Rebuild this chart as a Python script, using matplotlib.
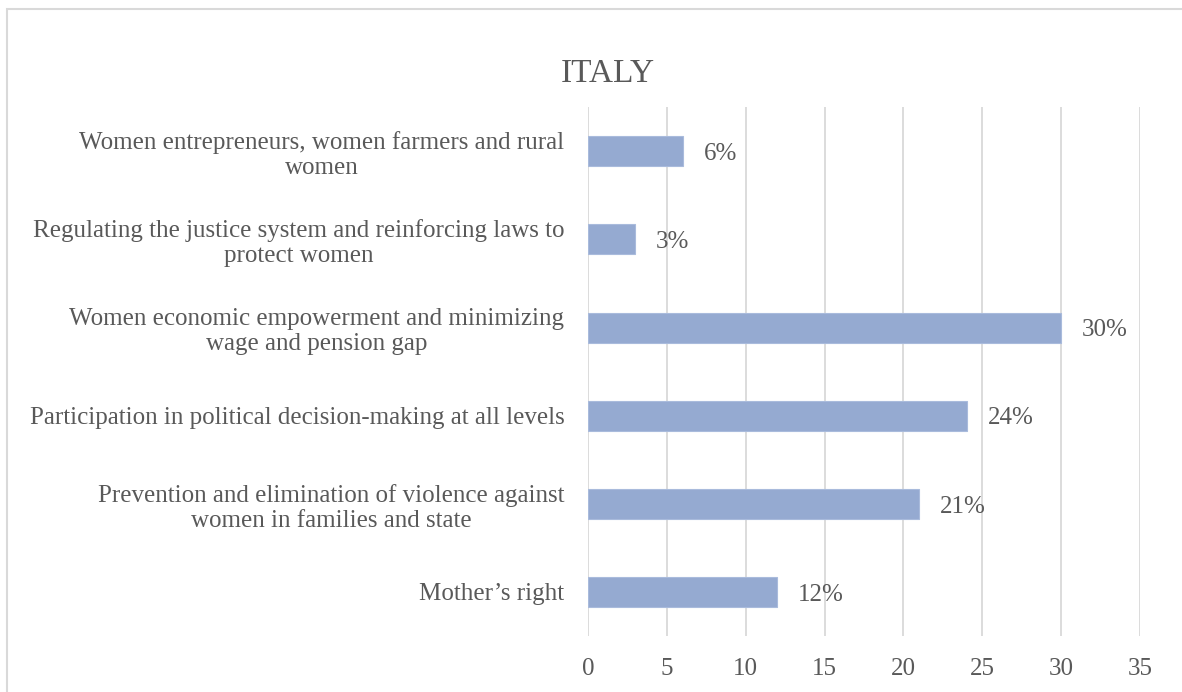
import matplotlib.pyplot as plt
from matplotlib.patches import Rectangle

# survey topics, bottom to top
topics = [
    "Mother\u2019s right",
    "Prevention and elimination of violence against\nwomen in families and state",
    "Participation in political decision-making at all levels",
    "Women economic empowerment and minimizing\nwage and pension gap",
    "Regulating the justice system and reinforcing laws to\nprotect women",
    "Women entrepreneurs, women farmers and rural\nwomen",
]
shares = [12, 21, 24, 30, 3, 6]
ticks = [0, 5, 10, 15, 20, 25, 30, 35]

txt = "#595959"
bar_col = "#95aad1"
grid_col = "#d9d9d9"
plt.rcParams["font.family"] = ["Liberation Serif", "DejaVu Serif"]

fig = plt.figure(figsize=(11.82, 6.92), dpi=100)
ax = fig.add_axes([0.4975, 0.081, 0.467, 0.764])

ypos = range(len(topics))
ax.barh(ypos, shares, height=0.34, color=bar_col, edgecolor="#a9bbdc",
        linewidth=0.8, zorder=3)
for y, v in zip(ypos, shares):
    ax.annotate(f"{v}%", (v, y), xytext=(15, -2), textcoords="offset points",
                ha="left", va="center", fontsize=18, color=txt)

ax.set_xlim(0, 35)
ax.set_ylim(-0.5, len(topics) - 0.5)
ax.set_xticks(ticks)
ax.set_yticks(list(ypos))
ax.set_yticklabels(topics)
for t in ax.get_yticklabels():
    t.set_multialignment("center")
    t.set_linespacing(1.18)
ax.tick_params(axis="y", length=0, pad=17, labelsize=18, labelcolor=txt)
ax.tick_params(axis="x", length=0, pad=16, labelsize=18, labelcolor=txt)
ax.grid(axis="x", color=grid_col, linewidth=1.3, zorder=0)
for s in ax.spines.values():
    s.set_visible(False)

fig.text(0.514, 0.893, "ITALY", ha="center", va="center", fontsize=24, color=txt)

# outer chart frame (runs off the right and bottom edges)
fig.patches.append(Rectangle((7 / 1182, -0.05), 1.1, 1 - 9 / 692 + 0.05,
                             transform=fig.transFigure, fill=False,
                             edgecolor=grid_col, linewidth=1.5))

fig.savefig("out.png", dpi=100, facecolor="white")
